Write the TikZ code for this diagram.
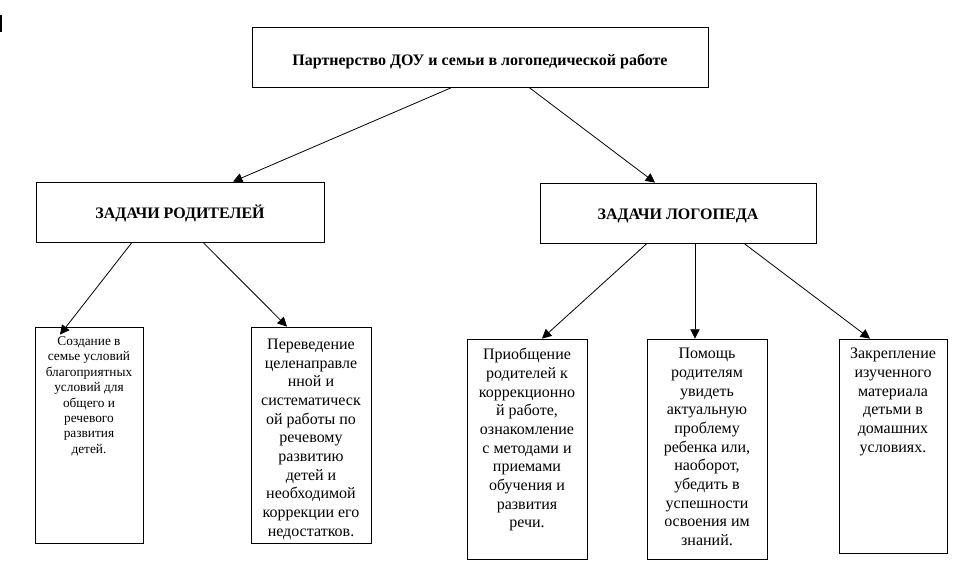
\documentclass[tikz,border=0pt]{standalone}
\usepackage{fontspec}
\setmainfont{Liberation Serif}
\usepackage{tikz}
\usetikzlibrary{arrows.meta,calc,positioning}

\begin{document}
\begin{tikzpicture}[x=0.75pt, y=-0.75pt, >={Triangle[width=7pt,length=7pt]}, line width=0.6pt]
	\tikzstyle{every node} = [rectangle, draw = black, inner sep = 0pt, line width = 0.6pt]
	\tikzstyle{head} = [minimum height = 45pt, font = \fontsize{12}{13.8}\selectfont\bfseries]
	\tikzstyle{task} = [align = center]
\useasboundingbox (0,0) rectangle (966,582);
\fill (0,15) rectangle (2,32);
\node[head, minimum width = 342pt] (top) at (480, 57) {\raisebox{-6pt}[0pt][0pt]{Партнерство ДОУ и семьи в логопедической работе}};
\node[head, minimum width = 216pt] (par) at (180, 212) {\raisebox{-5pt}[0pt][0pt]{ЗАДАЧИ РОДИТЕЛЕЙ}};
\node[head, minimum width = 207pt] (log) at (678, 213) {\raisebox{-5pt}[0pt][0pt]{ЗАДАЧИ ЛОГОПЕДА}};
\node[task] (b1) at (89, 435) {\parbox[t][162pt][t]{81pt}{\centering\fontsize{10}{11.6}\selectfont\vspace*{7pt}
	Создание в\\ семье условий\\ благоприятных\\ условий для\\ общего и\\ речевого\\ развития\\ детей.}};
\node[task] (b2) at (311, 435) {\parbox[t][162pt][t]{90pt}{\centering\fontsize{12}{14}\selectfont\vspace*{9pt}
	Переведение\\ целенаправле\\ нной и\\ систематическ\\ ой работы по\\ речевому\\ развитию\\ детей и\\ необходимой\\ коррекции его\\ недостатков.}};
\node[task] (b3) at (527, 449) {\parbox[t][165pt][t]{90pt}{\centering\fontsize{12}{14}\selectfont\vspace*{7pt}
	Приобщение\\ родителей к\\ коррекционно\\ й работе,\\ ознакомление\\ с методами и\\ приемами\\ обучения и\\ развития\\ речи.}};
\node[task] (b4) at (707, 449) {\parbox[t][165pt][t]{90pt}{\centering\fontsize{12}{14}\selectfont\vspace*{7pt}
	Помощь\\ родителям\\ увидеть\\ актуальную\\ проблему\\ ребенка или,\\ наоборот,\\ убедить в\\ успешности\\ освоения им\\ знаний.}};
\node[task] (b5) at (893, 446) {\parbox[t][160.5pt][t]{81pt}{\centering\fontsize{12}{14}\selectfont\vspace*{7pt}
	Закрепление\\ изученного\\ материала\\ детьми в\\ домашних\\ условиях.}};
	\path[draw][->] ($(top.south)+(-28,0)$) -- ($(par.north)+(53,0)$);
	\path[draw][->] ($(top.south)+(49,0)$) -- ($(log.north)+(-23,0)$);
	\path[draw][->] ($(par.south)+(-48,0)$) -- ($(b1.north)+(-29,8)$);
	\path[draw][->] ($(par.south)+(23,0)$) -- ($(b2.north)+(-24,0)$);
	\path[draw][->] ($(log.south)+(-31,0)$) -- ($(b3.north)+(15,0)$);
	\path[draw][->] ($(log.south)+(17,0)$) -- ($(b4.north)+(-12,0)$);
	\path[draw][->] ($(log.south)+(66,0)$) -- ($(b5.north)+(-23,0)$);
    \end{tikzpicture}
\end{document}
